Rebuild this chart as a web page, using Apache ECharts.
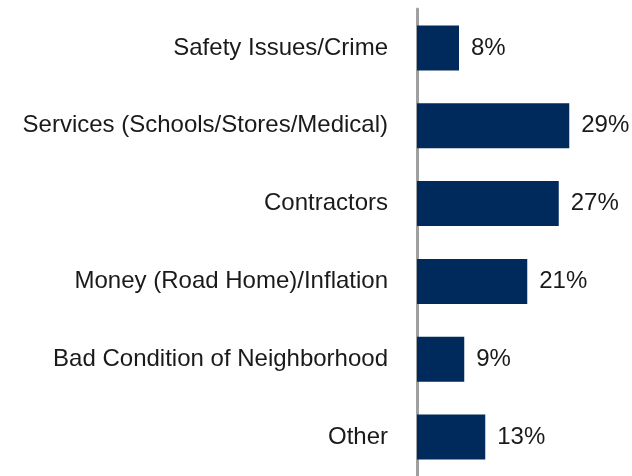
<!DOCTYPE html>
<html>
<head>
<meta charset="utf-8">
<script src="https://cdn.jsdelivr.net/npm/echarts@6/dist/echarts.min.js"></script>
<style>
  html, body { margin: 0; padding: 0; background: #fff; }
  #container { width: 632px; height: 476px; }
</style>
</head>
<body>
<div id="container"></div>
<script>
var categories = [
  'Safety Issues/Crime',
  'Services (Schools/Stores/Medical)',
  'Contractors',
  'Money (Road Home)/Inflation',
  'Bad Condition of Neighborhood',
  'Other'
];
var values = [8, 29, 27, 21, 9, 13];

var dom = document.getElementById('container');
var myChart = echarts.init(dom, null, { renderer: 'canvas' });

var option = {
  animation: false,
  grid: {
    left: 417,
    top: 9,
    width: 210,
    height: 470
  },
  xAxis: {
    type: 'value',
    min: 0,
    max: 40,
    show: false
  },
  yAxis: {
    type: 'category',
    inverse: true,
    data: categories,
    axisLine: {
      show: true,
      lineStyle: { color: '#a0a0a0', width: 3 }
    },
    axisTick: { show: false },
    axisLabel: {
      margin: 29,
      fontFamily: 'Liberation Sans, Arial, sans-serif',
      fontSize: 24,
      color: '#1a1a1a'
    }
  },
  series: [
    {
      type: 'bar',
      data: values,
      barWidth: 45,
      itemStyle: { color: '#00295c' },
      label: {
        show: true,
        position: 'right',
        distance: 12,
        formatter: '{c}%',
        fontFamily: 'Liberation Sans, Arial, sans-serif',
        fontSize: 24,
        color: '#1a1a1a'
      }
    }
  ]
};

myChart.setOption(option);
window.addEventListener('resize', myChart.resize);
</script>
</body>
</html>
